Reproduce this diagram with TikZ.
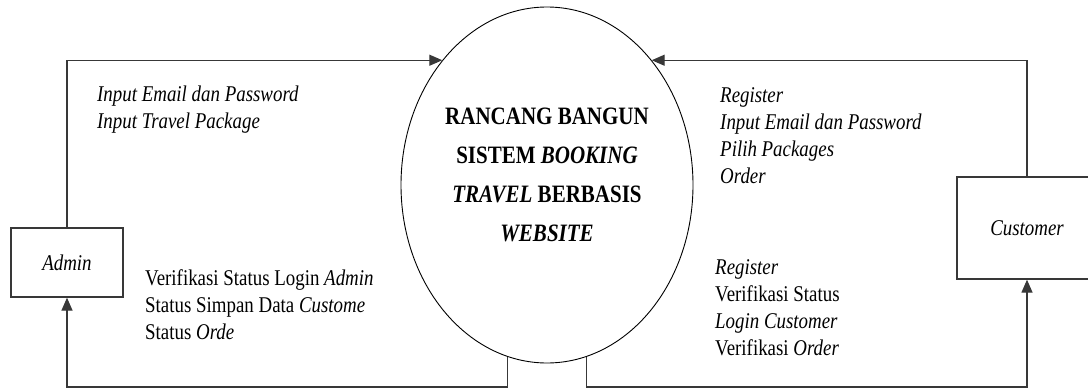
\documentclass[tikz,border=0pt]{standalone}
\usepackage{fontspec}
\setmainfont[FakeStretch=0.84]{Liberation Serif}
\usetikzlibrary{arrows.meta,shapes.geometric}
\begin{document}
\begin{tikzpicture}[x=1pt,y=-1pt,
  conn/.style={draw=black!78,line width=1.3pt,-{Triangle[length=13pt,width=11pt]}},
  box/.style={draw=black!78,line width=1.3pt,rectangle,inner sep=0pt},
  lbl/.style={anchor=north west,inner sep=0pt,align=left,font=\fontsize{22.5}{27}\selectfont},
  proc/.style={draw=black,line width=0.9pt,ellipse,inner sep=0pt,minimum width=292pt,minimum height=356pt}]
\useasboundingbox (0,0) rectangle (1088,388);
\node[proc] (p) at (547,185) {};
\node[align=center,inner sep=0pt,font=\fontsize{25}{39}\selectfont\bfseries] (title) at (547,175)
  {RANCANG BANGUN\\SISTEM \textit{BOOKING}\\\textit{TRAVEL} BERBASIS\\\textit{WEBSITE}};
\node[box,minimum width=112pt,minimum height=69pt,font=\fontsize{22.5}{27}\selectfont\itshape] (admin) at (67,262.5) {Admin};
\node[box,minimum width=140pt,minimum height=102pt,font=\fontsize{22.5}{27}\selectfont\itshape] (cust) at (1027,228) {Customer};
\coordinate (bl) at (67,387);
\coordinate (br) at (1027,387);
\draw[conn] (admin.north) |- (p.130);
\draw[conn] (cust.north) |- (p.50);
\draw[conn] (p.257) |- (bl) -- (admin.south);
\draw[conn] (p.283) |- (br) -- (cust.south);
\node[lbl,font=\fontsize{22.5}{27}\selectfont\itshape] (l1) at (97,85.5) {Input Email dan Password\\Input Travel Package};
\node[lbl] (l2) at (145,269.5) {Verifikasi Status Login \textit{Admin}\\Status Simpan Data \textit{Custome}\\Status \textit{Orde}};
\node[lbl,font=\fontsize{22.5}{27}\selectfont\itshape] (r1) at (720,87.5) {Register\\Input Email dan Password\\Pilih Packages\\Order};
\node[lbl] (r2) at (715,259.5) {\textit{Register}\\Verifikasi Status\\\textit{Login Customer}\\Verifikasi \textit{Order}};
\end{tikzpicture}
\end{document}
